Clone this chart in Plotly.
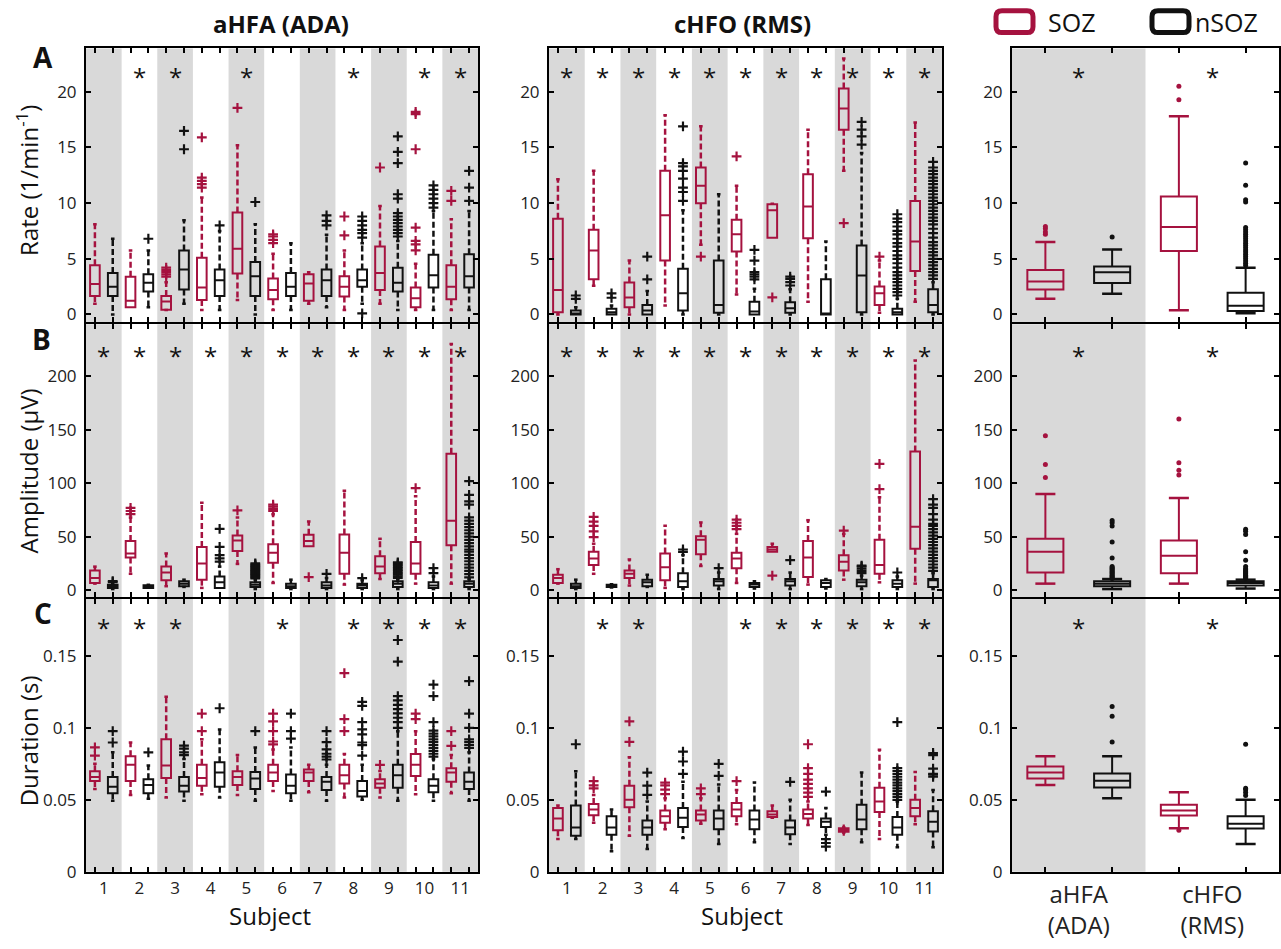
import plotly.graph_objects as go

W, H = 1281, 949
RED = "#A5123F"
BLK = "#111111"
GREY = "#D9D9D9"
FONT = "Open Sans"

subjects = list(range(1, 12))
subject_labels = [str(s) for s in subjects]
summary_labels = ["aHFA<br>(ADA)", "cHFO<br>(RMS)"]
col_titles = ["aHFA (ADA)", "cHFO (RMS)"]
row_titles = ["Rate (1/min<sup>-1</sup>)", "Amplitude (μV)", "Duration (s)"]
panel_letters = ["A", "B", "C"]

# ---- stats per subject: (lower whisker, q1, median, q3, upper whisker) ----
# Row A: rate
rate_ada_soz = [(0.95, 1.66, 2.73, 4.41, 8.1), (0.65, 0.65, 1.24, 3.38, 5.75), (0.4, 0.41, 1.16, 1.66, 2.9),
                (0.4, 1.3, 2.43, 5.1, 10.5), (1.3, 3.67, 5.9, 9.16, 15.2), (0.4, 1.36, 2.19, 3.23, 5.45),
                (0.95, 1.24, 2.79, 3.6, 3.8), (0.4, 1.6, 2.49, 3.44, 5.75), (0.95, 2.19, 3.73, 6.1, 9.75),
                (0.4, 0.65, 1.45, 2.43, 4.56), (0.4, 1.36, 2.49, 4.41, 8.56)]
rate_ada_soz_out = [[], [], [3.4, 3.6, 3.8, 4.0, 4.2], [11.4, 11.7, 12.0, 12.3, 15.9], [18.55],
                    [6.4, 6.7, 7.0, 7.2], [], [7.1, 8.8], [13.2], [5.75, 6.3, 6.6, 7.8, 14.84, 18.0, 18.2],
                    [10.2, 11.1]]
rate_ada_nsoz = [(0.0, 1.66, 2.49, 3.73, 6.8), (0.65, 2.05, 2.84, 3.6, 5.75), (0.95, 2.25, 4.03, 5.75, 8.47),
                 (0.4, 1.66, 3.08, 4.03, 7.5), (0.0, 1.66, 3.44, 4.7, 8.1), (0.4, 1.66, 2.49, 3.73, 6.4),
                 (0.65, 1.66, 3.08, 4.03, 7.17), (0.95, 2.49, 3.08, 4.03, 6.4), (0.4, 2.05, 2.84, 4.2, 6.6),
                 (0.4, 2.43, 3.53, 5.36, 9.3), (0.4, 2.43, 3.44, 5.4, 9.3)]
rate_ada_nsoz_out = [[], [6.8], [14.84, 16.5], [8.0], [10.1], [], [8.0, 8.4, 8.9],
                     [0.1, 6.9, 7.3, 7.6, 8.0, 8.4, 8.8],
                     [7.0, 7.3, 7.6, 7.9, 8.2, 8.5, 8.8, 9.1, 10.4, 10.8, 13.6, 14.6, 16.0],
                     [9.6, 10.0, 10.4, 10.8, 11.2, 11.6], [10.2, 11.4, 12.9]]
rate_rms_soz = [(0.0, 0.2, 2.2, 8.6, 12.15), (2.57, 3.15, 5.75, 7.6, 12.9), (0.0, 0.65, 1.53, 2.86, 4.84),
                (0.8, 4.84, 8.9, 12.9, 17.9), (6.25, 10.0, 11.56, 13.2, 16.9), (1.8, 5.66, 7.2, 8.5, 11.56),
                (6.9, 6.9, 9.35, 9.9, 9.95), (1.15, 6.84, 9.7, 12.6, 16.6), (12.9, 16.6, 18.5, 20.3, 23.0),
                (0.15, 0.85, 1.9, 2.5, 4.84), (1.15, 3.9, 6.55, 10.2, 17.25)]
rate_rms_soz_out = [[], [], [], [], [5.2], [14.2], [1.53], [], [8.2], [5.2], []]
rate_rms_nsoz = [(0.0, 0.0, 0.06, 0.35, 0.65), (0.0, 0.0, 0.2, 0.5, 0.8), (0.0, 0.0, 0.35, 0.85, 2.1),
                 (0.0, 0.35, 1.9, 4.1, 9.35), (0.0, 0.15, 0.85, 4.84, 10.8), (0.0, 0.0, 0.27, 1.15, 2.3),
                 (0.0, 0.15, 0.56, 1.1, 2.27), (0.0, 0.0, 0.0, 3.15, 6.55), (0.0, 0.2, 3.5, 6.2, 14.5),
                 (0.0, 0.0, 0.2, 0.5, 1.4), (0.0, 0.2, 0.85, 2.27, 2.9)]
rate_rms_nsoz_out = [[1.4, 1.7], [1.5, 1.9], [3.15, 5.2],
                     [10.2, 11.0, 11.4, 12.2, 12.9, 13.3, 13.6, 16.9], [],
                     [3.15, 3.4, 3.6, 3.8, 4.84, 5.8], [2.6, 2.9, 3.2, 3.4], [],
                     [15.25, 16.0, 16.6, 17.3],
                     [1.7, 2.0, 2.3, 2.6, 2.9, 3.2, 3.5, 3.8, 4.2, 4.6, 5.0, 5.3, 5.7, 6.1, 6.4, 6.8, 7.2,
                      7.5, 7.9, 8.3, 8.6, 9.0],
                     [3.2, 3.5, 3.8, 4.1, 4.4, 4.7, 5.0, 5.3, 5.6, 5.9, 6.2, 6.5, 6.9, 7.3, 7.7, 8.1, 8.4,
                      8.7, 9.0, 9.3, 9.6, 9.9, 10.2, 10.5, 10.8, 11.1, 11.4, 11.7, 12.0, 12.3, 12.6, 12.9,
                      13.2, 13.7]]

# Row B: amplitude
amp_ada_soz = [(6.1, 6.7, 11.3, 18.3, 22.0), (15.3, 30.6, 34.3, 45.9, 67.9), (3.7, 9.2, 16.5, 22.0, 34.3),
               (2.1, 9.8, 25.0, 40.4, 81.6), (24.5, 36.7, 46.5, 51.0, 67.9), (6.7, 25.7, 34.9, 42.8, 71.0),
               (41.0, 41.0, 45.9, 51.7, 64.2), (5.2, 15.3, 34.9, 52.0, 93.0), (10.4, 15.9, 22.0, 31.8, 48.0),
               (6.1, 15.3, 25.0, 45.0, 87.8), (6.1, 41.9, 64.8, 127.5, 230.0)]
amp_ada_soz_out = [[], [71, 74, 77], [], [], [74.6], [74, 76, 78, 80], [12.2], [], [], [95.4], []]
amp_ada_nsoz = [(1.0, 2.0, 3.5, 5.0, 6.5), (2.0, 2.0, 3.5, 4.5, 5.0), (3.0, 3.7, 6.1, 8.3, 9.8),
                (2.1, 2.1, 7.3, 12.8, 22.0), (1.0, 3.0, 5.0, 7.3, 9.8), (1.0, 2.1, 3.7, 6.1, 9.8),
                (1.0, 2.1, 4.3, 7.3, 11.3), (1.0, 2.1, 4.3, 6.1, 9.2), (1.0, 3.0, 6.1, 8.3, 10.4),
                (1.0, 2.1, 4.3, 7.3, 12.8), (1.0, 3.0, 6.1, 8.3, 10.4)]
amp_ada_nsoz_out = [[7.5, 8.5], [], [], [26.6, 29.7, 32.7, 40.4, 57.2],
                    [11, 12, 13, 14, 15, 16, 17, 18, 19, 20, 21, 22, 23, 24, 25], [], [15.3], [11.3],
                    [11.5, 13, 14.5, 16, 17.5, 19, 20.5, 22, 23.5, 25, 26], [15.9, 20.5],
                    [12, 15, 18, 21, 24, 27, 30, 33, 36, 38, 41, 44, 47, 50, 53, 56, 59, 62, 65, 68, 80,
                     83, 89, 102]]
amp_rms_soz = [(6.1, 6.7, 11.3, 14.4, 19.6), (15.3, 23.5, 29.7, 35.8, 43.4), (4.3, 11.3, 15.3, 18.3, 28.7),
               (2.1, 9.2, 21.4, 34.3, 60.2), (22.6, 33.6, 47.0, 50.5, 63.3), (6.7, 20.5, 29.7, 34.9, 52.6),
               (35.8, 35.8, 38.0, 40.4, 43.4), (5.2, 12.2, 30.6, 45.9, 65.4), (9.8, 18.3, 26.6, 32.7, 52.6),
               (7.3, 15.3, 23.5, 47.0, 86.9), (6.1, 38.8, 59.3, 129.7, 214.7)]
amp_rms_soz_out = [[], [49.5, 55, 60, 64, 68.5], [], [], [], [57, 60, 63, 66], [13.5], [], [55.7],
                   [94.5, 118], []]
amp_rms_nsoz = [(1.0, 2.1, 3.7, 6.1, 9.8), (2.5, 3.0, 4.0, 5.0, 5.5), (3.0, 3.7, 7.3, 9.8, 14.4),
                (1.0, 3.0, 8.3, 15.9, 32.7), (1.0, 4.3, 8.3, 10.4, 16.5), (1.5, 3.0, 5.2, 6.7, 8.3),
                (1.0, 4.3, 8.3, 10.4, 16.5), (1.5, 3.0, 6.7, 9.2, 10.4), (1.0, 3.7, 7.3, 9.8, 13.5),
                (1.0, 3.0, 6.1, 9.2, 12.8), (1.0, 3.0, 9.2, 10.4, 15.9)]
amp_rms_nsoz_out = [[], [], [], [35.8, 38.0], [20.5], [], [28.1], [], [16, 18, 20, 22, 23], [16.5],
                    [18, 21, 24, 27, 30, 33, 36, 39, 42, 45, 48, 51, 54, 57, 60, 62, 66, 71, 77, 80, 85]]

# Row C: duration
dur_ada_soz = [(0.0575, 0.063, 0.0659, 0.0698, 0.075), (0.0534, 0.063, 0.0743, 0.0802, 0.0898),
               (0.0516, 0.0652, 0.0739, 0.092, 0.1216), (0.0539, 0.0598, 0.0652, 0.0743, 0.092),
               (0.0534, 0.0602, 0.0659, 0.0698, 0.0811), (0.0561, 0.063, 0.0689, 0.0743, 0.085),
               (0.0552, 0.063, 0.0689, 0.0711, 0.0743), (0.0516, 0.0614, 0.067, 0.0743, 0.0818),
               (0.0516, 0.0584, 0.0614, 0.0643, 0.070), (0.0539, 0.0666, 0.0743, 0.0818, 0.0977),
               (0.0545, 0.0625, 0.0689, 0.072, 0.0811)]
dur_ada_soz_out = [[0.0807, 0.0864], [], [], [0.0977, 0.1098], [], [0.0885, 0.0905, 0.0977, 0.1045, 0.1098],
                   [], [0.0977, 0.1061, 0.138], [0.0743], [0.1061, 0.1098], [0.0875, 0.0977]]
dur_ada_nsoz = [(0.0493, 0.0545, 0.059, 0.0659, 0.083), (0.0507, 0.0545, 0.0602, 0.0643, 0.0739),
                (0.0493, 0.0557, 0.0598, 0.0659, 0.0784), (0.0516, 0.059, 0.0689, 0.0761, 0.0989),
                (0.0493, 0.0575, 0.0648, 0.0693, 0.0864), (0.0493, 0.0545, 0.0598, 0.0675, 0.0864),
                (0.0493, 0.0568, 0.0625, 0.0659, 0.0743), (0.050, 0.0523, 0.0561, 0.063, 0.0743),
                (0.0493, 0.0584, 0.067, 0.0743, 0.0977), (0.0493, 0.0552, 0.0598, 0.0643, 0.0784),
                (0.0493, 0.0575, 0.0625, 0.0689, 0.083)]
dur_ada_nsoz_out = [[0.0898, 0.0977], [0.083], [0.081, 0.083, 0.0855, 0.0877], [0.1136], [0.0977],
                    [0.0925, 0.0977, 0.1098], [0.078, 0.08, 0.082, 0.085, 0.09, 0.0977],
                    [0.0807, 0.088, 0.0898, 0.0955, 0.0989, 0.1039, 0.1152, 0.118],
                    [0.1, 0.104, 0.107, 0.11, 0.113, 0.116, 0.119, 0.122, 0.146, 0.161],
                    [0.08, 0.082, 0.084, 0.086, 0.088, 0.09, 0.092, 0.094, 0.096, 0.098, 0.104, 0.122, 0.13],
                    [0.086, 0.088, 0.09, 0.092, 0.1, 0.1098, 0.1325]]
dur_rms_soz = [(0.0227, 0.0289, 0.037, 0.0443, 0.0461), (0.0341, 0.0393, 0.0432, 0.047, 0.0534),
               (0.025, 0.0448, 0.05, 0.0598, 0.0795), (0.0295, 0.0341, 0.0386, 0.0425, 0.0511),
               (0.0334, 0.0357, 0.0398, 0.0425, 0.0511), (0.033, 0.0386, 0.0432, 0.0477, 0.0568),
               (0.0375, 0.038, 0.0398, 0.042, 0.0461), (0.0325, 0.037, 0.0402, 0.0432, 0.0489),
               (0.0273, 0.0278, 0.029, 0.0302, 0.0307), (0.0227, 0.0416, 0.0489, 0.0584, 0.0848),
               (0.033, 0.0386, 0.0443, 0.05, 0.0693)]
dur_rms_soz_out = [[], [0.058, 0.06, 0.063], [0.0902, 0.1045], [0.054, 0.057, 0.06, 0.062], [0.054, 0.058],
                   [0.063], [], [0.052, 0.055, 0.058, 0.061, 0.064, 0.068, 0.072, 0.0886],
                   [0.0285, 0.0295], [], []]
dur_rms_nsoz = [(0.0227, 0.025, 0.0307, 0.0461, 0.0698), (0.0143, 0.0257, 0.0307, 0.0386, 0.0432),
                (0.0159, 0.0257, 0.0307, 0.0357, 0.0489), (0.0234, 0.0311, 0.0375, 0.0443, 0.0625),
                (0.0193, 0.0295, 0.037, 0.0425, 0.0607), (0.0205, 0.0295, 0.0364, 0.0425, 0.062),
                (0.0193, 0.0261, 0.0307, 0.0357, 0.050), (0.0257, 0.0311, 0.0348, 0.037, 0.0443),
                (0.0205, 0.0295, 0.0364, 0.0466, 0.0689), (0.017, 0.0257, 0.0307, 0.038, 0.0489),
                (0.017, 0.028, 0.0348, 0.042, 0.0568)]
dur_rms_nsoz_out = [[0.0886], [], [0.0534, 0.0598, 0.0689], [0.068, 0.0766, 0.0834], [0.0666, 0.075], [],
                    [0.0625], [0.0557, 0.0227, 0.02, 0.0175], [],
                    [0.05, 0.052, 0.054, 0.056, 0.058, 0.06, 0.062, 0.064, 0.066, 0.068, 0.07, 0.072, 0.104],
                    [0.066, 0.0675, 0.068, 0.0716, 0.0811, 0.0825]]

# Summary column: [aHFA (ADA), cHFO (RMS)]
rate_sum_soz = [(1.4, 2.24, 2.95, 4.0, 6.5), (0.38, 5.7, 7.85, 10.6, 17.8)]
rate_sum_soz_out = [[7.2, 7.4, 7.7, 7.9], [19.3, 20.5]]
rate_sum_nsoz = [(1.86, 2.83, 3.78, 4.3, 5.84), (0.1, 0.3, 0.77, 1.95, 4.2)]
rate_sum_nsoz_out = [[6.96], [4.4, 4.6, 4.8, 5.0, 5.2, 5.4, 5.6, 5.8, 6.0, 6.2, 6.4, 6.6, 6.8, 7.0, 7.2,
                              7.4, 7.6, 7.8, 10.1, 10.3, 11.6, 13.6]]
amp_sum_soz = [(6.1, 16.5, 35.8, 48.0, 89.9), (6.1, 15.9, 32.1, 46.5, 86.2)]
amp_sum_soz_out = [[105.2, 117.4, 144.3], [107.6, 112, 119, 160]]
amp_sum_nsoz = [(1.0, 3.7, 6.1, 8.3, 10.4), (1.5, 4.3, 6.7, 8.3, 9.8)]
amp_sum_nsoz_out = [[11, 12, 13, 14, 15, 16, 17, 18, 19, 20, 21, 22, 30, 45, 60, 63, 65],
                    [11, 12, 13, 14, 15, 16, 17, 18, 19, 20, 22, 28, 36, 52, 55, 57]]
dur_sum_soz = [(0.0602, 0.0648, 0.0689, 0.0732, 0.0802), (0.0302, 0.0391, 0.0425, 0.0466, 0.0552)]
dur_sum_soz_out = [[], [0.0289]]
dur_sum_nsoz = [(0.0511, 0.0586, 0.0632, 0.0682, 0.0802), (0.0193, 0.030, 0.0334, 0.0386, 0.050)]
dur_sum_nsoz_out = [[0.0902, 0.108, 0.1148], [0.053, 0.055, 0.057, 0.058, 0.0886]]

# significance markers (subject numbers / groups)
sig_rate_ada = [2, 3, 5, 8, 10, 11]
sig_rate_rms = subjects
sig_amp_ada = subjects
sig_amp_rms = subjects
sig_dur_ada = [1, 2, 3, 6, 8, 9, 10, 11]
sig_dur_rms = [2, 3, 6, 7, 8, 9, 10, 11]
sig_sum = [1, 2]

panels = [
    [(rate_ada_soz, rate_ada_soz_out, rate_ada_nsoz, rate_ada_nsoz_out, sig_rate_ada),
     (rate_rms_soz, rate_rms_soz_out, rate_rms_nsoz, rate_rms_nsoz_out, sig_rate_rms),
     (rate_sum_soz, rate_sum_soz_out, rate_sum_nsoz, rate_sum_nsoz_out, sig_sum)],
    [(amp_ada_soz, amp_ada_soz_out, amp_ada_nsoz, amp_ada_nsoz_out, sig_amp_ada),
     (amp_rms_soz, amp_rms_soz_out, amp_rms_nsoz, amp_rms_nsoz_out, sig_amp_rms),
     (amp_sum_soz, amp_sum_soz_out, amp_sum_nsoz, amp_sum_nsoz_out, sig_sum)],
    [(dur_ada_soz, dur_ada_soz_out, dur_ada_nsoz, dur_ada_nsoz_out, sig_dur_ada),
     (dur_rms_soz, dur_rms_soz_out, dur_rms_nsoz, dur_rms_nsoz_out, sig_dur_rms),
     (dur_sum_soz, dur_sum_soz_out, dur_sum_nsoz, dur_sum_nsoz_out, sig_sum)],
]

yranges = [(-0.7, 23.9), (-6.4, 248.6), (0.0, 0.1895)]
ytickvals = [[0, 5, 10, 15, 20], [0, 50, 100, 150, 200], [0, 0.05, 0.1, 0.15]]
yticktext = [["0", "5", "10", "15", "20"], ["0", "50", "100", "150", "200"], ["0", "0.05", "0.1", "0.15"]]
sig_y = [21.9, 225, 0.174]

# ---- layout geometry (pixels) ----
col_px = [(86, 478), (549, 942), (1012, 1279)]
row_px = [(49, 326), (328, 604), (606, 882)]
OFF = 0.25


def px_x(p):
    return p / W


def px_y(p):
    return 1 - p / H


fig = go.Figure()
shapes = []
annotations = []


def add_group(xa, ya, pos, stats, outs, color, summary):
    lo = [s[0] for s in stats]
    q1 = [s[1] for s in stats]
    med = [s[2] for s in stats]
    q3 = [s[3] for s in stats]
    hi = [s[4] for s in stats]
    fig.add_trace(go.Box(x=pos, q1=q1, median=med, q3=q3, lowerfence=q1, upperfence=q3,
                         width=0.27, whiskerwidth=0, boxpoints=False,
                         line=dict(color=color, width=2), fillcolor="rgba(0,0,0,0)",
                         xaxis=xa, yaxis=ya, showlegend=False, hoverinfo="skip"))
    wx, wy, cx, cy = [], [], [], []
    cap = 0.075 if summary else 0.05
    for p, l, a, b, h in zip(pos, lo, q1, q3, hi):
        if h > b:
            wx += [p, p, None]
            wy += [b, h, None]
            cx += [p - cap, p + cap, None]
            cy += [h, h, None]
        if l < a:
            wx += [p, p, None]
            wy += [a, l, None]
            cx += [p - cap, p + cap, None]
            cy += [l, l, None]
    fig.add_trace(go.Scatter(x=wx, y=wy, mode="lines", xaxis=xa, yaxis=ya, showlegend=False,
                             hoverinfo="skip",
                             line=dict(color=color, width=2 if summary else 2.5,
                                       dash="solid" if summary else "6px,3px")))
    fig.add_trace(go.Scatter(x=cx, y=cy, mode="lines", xaxis=xa, yaxis=ya, showlegend=False,
                             hoverinfo="skip", line=dict(color=color, width=2.5)))
    ox, oy = [], []
    for p, vals in zip(pos, outs):
        ox += [p] * len(vals)
        oy += list(vals)
    if summary:
        mk = dict(symbol="circle", size=5, color=color)
    else:
        mk = dict(symbol="cross-thin", size=7, line=dict(color=color, width=2.2))
    fig.add_trace(go.Scatter(x=ox, y=oy, mode="markers", marker=mk, xaxis=xa, yaxis=ya,
                             showlegend=False, hoverinfo="skip"))


tickfont = dict(family=FONT, size=17, color="#222222")

for r in range(3):
    for c in range(3):
        idx = r * 3 + c + 1
        xa = "x" if idx == 1 else f"x{idx}"
        ya = "y" if idx == 1 else f"y{idx}"
        xkey = "xaxis" if idx == 1 else f"xaxis{idx}"
        ykey = "yaxis" if idx == 1 else f"yaxis{idx}"
        soz, soz_out, nsoz, nsoz_out, sig = panels[r][c]
        summary = c == 2
        groups = [1, 2] if summary else subjects
        n = len(groups)

        # alternating grey bands
        for g in groups:
            if g % 2 == 1:
                shapes.append(dict(type="rect", xref=xa, yref=f"{ya} domain", x0=g - 0.5, x1=g + 0.5,
                                   y0=0, y1=1, fillcolor=GREY, line=dict(width=0), layer="below"))

        pos_s = [g - OFF for g in groups]
        pos_n = [g + OFF for g in groups]
        add_group(xa, ya, pos_s, soz, soz_out, RED, summary)
        add_group(xa, ya, pos_n, nsoz, nsoz_out, BLK, summary)

        for g in sig:
            annotations.append(dict(x=g, y=sig_y[r], xref=xa, yref=ya, text="*", showarrow=False,
                                    xanchor="center", yanchor="middle", yshift=-6,
                                    font=dict(family=FONT, size=24, color="#111111")))

        x0, x1 = col_px[c]
        y0, y1 = row_px[r]
        show_xlabels = r == 2
        if summary:
            ttext = summary_labels
            xfont = dict(family=FONT, size=24, color="#222222")
        else:
            ttext = subject_labels
            xfont = tickfont
        fig.layout[xkey] = dict(domain=[px_x(x0), px_x(x1)], anchor=ya, range=[0.5, n + 0.5],
                                tickvals=groups, ticktext=ttext, showticklabels=show_xlabels,
                                ticks="inside", ticklen=0, tickfont=xfont,
                                minor=dict(tickvals=pos_s + pos_n, ticks="inside", ticklen=5, tickwidth=2,
                                           tickcolor="black", showgrid=False),
                                showline=True, linecolor="black", linewidth=2, mirror="ticks",
                                showgrid=False, zeroline=False, fixedrange=True)
        fig.layout[ykey] = dict(domain=[px_y(y1), px_y(y0)], anchor=xa, range=list(yranges[r]),
                                tickvals=ytickvals[r], ticktext=yticktext[r], tickfont=tickfont,
                                ticks="inside", ticklen=5, tickwidth=2, tickcolor="black",
                                ticklabelstandoff=4,
                                showline=True, linecolor="black", linewidth=2, mirror="ticks",
                                showgrid=False, zeroline=False, fixedrange=True)


def paper_text(x, y, text, size, bold=False, angle=0, xanchor="center"):
    annotations.append(dict(x=px_x(x), y=px_y(y), xref="paper", yref="paper",
                            text=f"<b>{text}</b>" if bold else text, textangle=angle,
                            xanchor=xanchor, yanchor="middle", showarrow=False,
                            font=dict(family=FONT, size=size, color="#111111")))


paper_text(281, 24, col_titles[0], 24, bold=True)
paper_text(742, 24, col_titles[1], 24, bold=True)
paper_text(270, 926, "Subject", 24)
paper_text(742, 926, "Subject", 24)
for txt, yc in zip(row_titles, (183, 477, 750)):
    paper_text(28, yc, txt, 24, angle=-90)
for txt, (xc, yc) in zip(panel_letters, [(43, 58), (41, 343), (43, 620)]):
    paper_text(xc, yc, txt, 28, bold=True)


# legend (drawn manually)
def rounded_rect(x0, y0, x1, y1, r=6):
    X = lambda v: px_x(v)
    Y = lambda v: px_y(v)
    return (f"M {X(x0 + r)},{Y(y0)} L {X(x1 - r)},{Y(y0)} Q {X(x1)},{Y(y0)} {X(x1)},{Y(y0 + r)} "
            f"L {X(x1)},{Y(y1 - r)} Q {X(x1)},{Y(y1)} {X(x1 - r)},{Y(y1)} "
            f"L {X(x0 + r)},{Y(y1)} Q {X(x0)},{Y(y1)} {X(x0)},{Y(y1 - r)} "
            f"L {X(x0)},{Y(y0 + r)} Q {X(x0)},{Y(y0)} {X(x0 + r)},{Y(y0)} Z")


shapes.append(dict(type="path", xref="paper", yref="paper", path=rounded_rect(996, 11, 1033, 33),
                   line=dict(color=RED, width=5), fillcolor="white"))
shapes.append(dict(type="path", xref="paper", yref="paper", path=rounded_rect(1152, 11, 1189, 33),
                   line=dict(color=BLK, width=5), fillcolor="white"))
paper_text(1046, 22, "SOZ", 25, xanchor="left")
paper_text(1193, 22, "nSOZ", 25, xanchor="left")

fig.update_layout(width=W, height=H, autosize=False, margin=dict(l=0, r=0, t=0, b=0),
                  paper_bgcolor="white", plot_bgcolor="white", shapes=shapes, annotations=annotations,
                  showlegend=False, boxmode="overlay")

fig.write_html("out.html")
